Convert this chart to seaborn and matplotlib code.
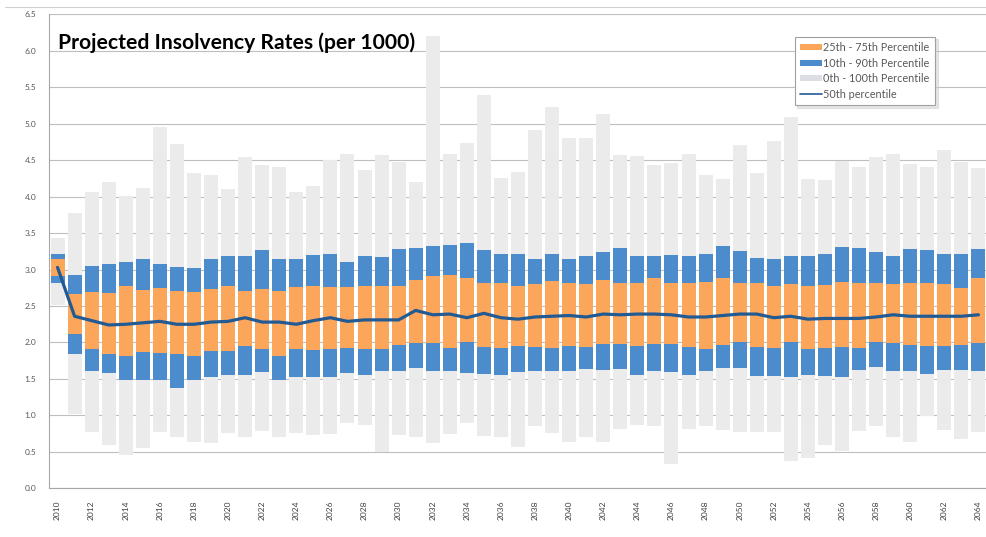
"""Projected insolvency rates: percentile bands per year with median line."""

import matplotlib
matplotlib.use("Agg")
import matplotlib.pyplot as plt
from matplotlib.patches import Patch
from matplotlib.lines import Line2D
import numpy as np
import pandas as pd
import seaborn as sns

years = [str(y) for y in range(2010, 2065)]

# 0th / 100th percentile (min / max)
p0 = [2.52, 1.02, 0.77, 0.60, 0.45, 0.55, 0.77, 0.71, 0.64, 0.62,
      0.76, 0.71, 0.79, 0.71, 0.76, 0.73, 0.75, 0.89, 0.87, 0.50,
      0.73, 0.71, 0.62, 0.74, 0.90, 0.72, 0.71, 0.57, 0.85, 0.76,
      0.64, 0.71, 0.64, 0.81, 0.87, 0.85, 0.33, 0.81, 0.85, 0.80,
      0.77, 0.77, 0.77, 0.37, 0.41, 0.59, 0.51, 0.78, 0.85, 0.71,
      0.64, 0.99, 0.80, 0.68, 0.77]
p100 = [3.43, 3.78, 4.07, 4.20, 4.01, 4.12, 4.96, 4.72, 4.33, 4.30,
        4.10, 4.54, 4.43, 4.41, 4.07, 4.14, 4.50, 4.58, 4.36, 4.57,
        4.47, 4.20, 6.20, 4.58, 4.74, 5.40, 4.25, 4.34, 4.92, 5.23,
        4.80, 4.81, 5.14, 4.57, 4.56, 4.43, 4.46, 4.59, 4.30, 4.24,
        4.71, 4.33, 4.76, 5.10, 4.24, 4.23, 4.49, 4.41, 4.55, 4.58,
        4.45, 4.41, 4.64, 4.47, 4.39]

# 10th / 90th percentile
p10 = [2.82, 1.84, 1.61, 1.58, 1.49, 1.48, 1.49, 1.38, 1.49, 1.52,
       1.55, 1.55, 1.60, 1.49, 1.52, 1.53, 1.53, 1.58, 1.56, 1.61,
       1.61, 1.65, 1.61, 1.61, 1.58, 1.57, 1.55, 1.59, 1.61, 1.61,
       1.61, 1.63, 1.62, 1.63, 1.55, 1.61, 1.60, 1.55, 1.61, 1.65,
       1.65, 1.54, 1.54, 1.52, 1.55, 1.54, 1.52, 1.62, 1.66, 1.61,
       1.61, 1.57, 1.62, 1.62, 1.61]
p90 = [3.22, 2.93, 3.05, 3.08, 3.10, 3.15, 3.08, 3.03, 3.02, 3.14,
       3.19, 3.19, 3.27, 3.15, 3.15, 3.20, 3.22, 3.11, 3.19, 3.17,
       3.28, 3.30, 3.32, 3.34, 3.36, 3.27, 3.22, 3.21, 3.15, 3.22,
       3.15, 3.18, 3.24, 3.29, 3.18, 3.19, 3.20, 3.18, 3.22, 3.33,
       3.26, 3.16, 3.14, 3.18, 3.19, 3.22, 3.31, 3.29, 3.24, 3.18,
       3.28, 3.27, 3.22, 3.22, 3.28]

# 25th / 75th percentile
p25 = [2.91, 2.11, 1.91, 1.84, 1.81, 1.87, 1.86, 1.84, 1.81, 1.88,
       1.89, 1.95, 1.91, 1.81, 1.91, 1.90, 1.91, 1.93, 1.91, 1.91,
       1.96, 1.99, 1.99, 1.92, 2.01, 1.94, 1.93, 1.95, 1.94, 1.92,
       1.95, 1.94, 1.98, 1.98, 1.95, 1.98, 1.98, 1.94, 1.91, 1.97,
       2.01, 1.94, 1.92, 2.00, 1.91, 1.92, 1.94, 1.93, 2.00, 1.99,
       1.96, 1.95, 1.95, 1.96, 1.99]
p75 = [3.14, 2.67, 2.69, 2.68, 2.77, 2.72, 2.75, 2.70, 2.69, 2.73,
       2.78, 2.71, 2.73, 2.71, 2.76, 2.78, 2.76, 2.76, 2.77, 2.78,
       2.78, 2.86, 2.91, 2.93, 2.89, 2.81, 2.81, 2.77, 2.80, 2.84,
       2.81, 2.80, 2.86, 2.82, 2.81, 2.89, 2.82, 2.81, 2.83, 2.88,
       2.82, 2.81, 2.77, 2.80, 2.77, 2.79, 2.83, 2.81, 2.81, 2.80,
       2.81, 2.81, 2.80, 2.75, 2.88]

# 50th percentile
p50 = [3.03, 2.36, 2.30, 2.24, 2.25, 2.27, 2.29, 2.25, 2.25, 2.28,
       2.29, 2.34, 2.28, 2.28, 2.25, 2.30, 2.34, 2.29, 2.31, 2.31,
       2.31, 2.44, 2.38, 2.39, 2.34, 2.40, 2.34, 2.32, 2.35, 2.36,
       2.37, 2.35, 2.39, 2.38, 2.39, 2.39, 2.38, 2.35, 2.35, 2.37,
       2.39, 2.39, 2.34, 2.36, 2.32, 2.33, 2.33, 2.33, 2.35, 2.38,
       2.36, 2.36, 2.36, 2.36, 2.38]

GRAY = "#EBEBEB"
BLUE = "#4C8BCC"
ORANGE = "#FBA65A"
NAVY = "#225A93"
TEXT = "#595959"

sns.set_style("white")
plt.rcParams["font.family"] = ["Lato", "DejaVu Sans"]

fig = plt.figure(figsize=(9.87, 5.37), dpi=100)
ax = fig.add_axes([49 / 987, 0.0907, 938 / 987, 0.9731 - 0.0907])


def draw_band(lo, hi, color, z):
    df = pd.DataFrame({"year": years, "span": np.array(hi) - np.array(lo)})
    sns.barplot(data=df, x="year", y="span", bottom=lo, color=color,
                width=0.82, errorbar=None, saturation=1, linewidth=0,
                zorder=z, ax=ax)


draw_band(p0, p100, GRAY, 2)
draw_band(p10, p90, BLUE, 3)
draw_band(p25, p75, ORANGE, 4)

med = pd.DataFrame({"pos": np.arange(len(years)), "p50": p50})
sns.lineplot(data=med, x="pos", y="p50", color=NAVY, linewidth=2.3,
             zorder=5, ax=ax)

ax.set_xlim(-0.47, 54.4)
ax.set_ylim(0, 6.5)
ax.set_xlabel("")
ax.set_ylabel("")

ax.set_xticks(range(0, len(years), 2))
ax.set_xticklabels(years[::2], rotation=90, fontsize=6, color="#404040")
ax.set_xticks(np.arange(-0.5, len(years), 1), minor=True)
ax.tick_params(axis="x", which="major", length=0, pad=9)
ax.tick_params(axis="x", which="minor", length=3, color="#A6A6A6", width=0.8)

yt = np.arange(0, 6.51, 0.5)
ax.set_yticks(yt)
ax.set_yticklabels([f"{v:.1f}" for v in yt], fontsize=6, color=TEXT)
ax.tick_params(axis="y", length=4, color="#BFBFBF", width=0.8, pad=5)

ax.yaxis.grid(True, color="#BFBFBF", linewidth=0.8)
ax.set_axisbelow(True)
for side in ("top", "right"):
    ax.spines[side].set_visible(False)
for side in ("left", "bottom"):
    ax.spines[side].set_color("#A6A6A6")
    ax.spines[side].set_linewidth(0.8)

ax.text(0.0096, 0.927, "Projected Insolvency Rates (per 1000)",
        transform=ax.transAxes, fontsize=15.2, fontweight="bold",
        color="black", va="baseline")

handles = [
    Patch(facecolor=ORANGE, edgecolor="none", label="25th - 75th Percentile"),
    Patch(facecolor=BLUE, edgecolor="none", label="10th - 90th Percentile"),
    Patch(facecolor="#DDDDE4", edgecolor="none", label="0th - 100th Percentile"),
    Line2D([], [], color=NAVY, linewidth=1.2, label="50th percentile"),
]
leg = ax.legend(handles=handles, loc="upper left", bbox_to_anchor=(0.795, 0.953),
                fontsize=7.8, labelcolor=TEXT, frameon=True, fancybox=False,
                shadow={"color": "0.8"}, edgecolor="#A0A0A0", framealpha=1,
                handlelength=2.0, handleheight=0.5, handletextpad=0.15,
                labelspacing=0.42, borderpad=0.5, borderaxespad=0)
leg.get_frame().set_linewidth(0.8)
leg.set_zorder(10)

fig.add_artist(Line2D([0.005, 1.0], [1 - 7 / 537] * 2, transform=fig.transFigure,
                      color="#D0D0D0", linewidth=0.8))

fig.savefig("out.png", dpi=100)
